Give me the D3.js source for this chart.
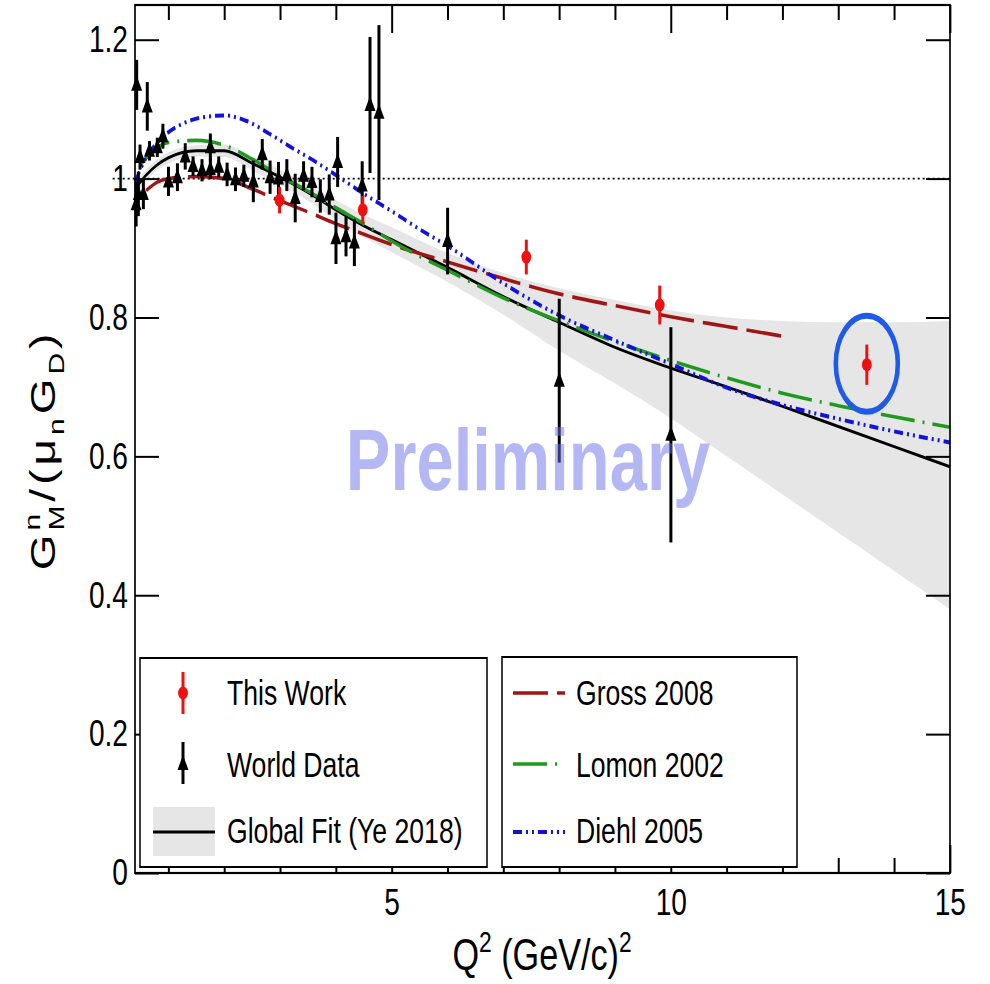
<!DOCTYPE html>
<html><head><meta charset="utf-8">
<script src="https://cdn.jsdelivr.net/npm/d3@7"></script>
<style>
body{margin:0;background:#fff}
svg{display:block}
text{font-family:"Liberation Sans",Arial,Helvetica,sans-serif}
</style>
</head><body>
<svg id="c" width="990" height="984"></svg>
<script>
// ---------------- data ----------------
const yTicks = [0, 0.2, 0.4, 0.6, 0.8, 1, 1.2];
const yTickLabels = ["0", "0.2", "0.4", "0.6", "0.8", "1", "1.2"];
const xMajorTicks = [5, 10, 15];
const xMajorLabels = ["5", "10", "15"];
const xMinorTicks = [1, 2, 3, 4, 6, 7, 8, 9, 11, 12, 13, 14];

// Global fit (Ye 2018) with uncertainty band
const fitQ  = [0.4, 0.6, 0.8, 1.0, 1.5, 2.0, 2.5, 3.0, 3.5, 4.0, 4.5, 5.0, 6.0, 7.0, 8.0, 9.0, 10.0, 11.0, 12.0, 13.0, 14.0, 15.0];
const fitY  = [0.985, 1.005, 1.02, 1.03, 1.04, 1.04, 1.022, 1.002, 0.98, 0.955, 0.932, 0.912, 0.872, 0.83, 0.793, 0.757, 0.727, 0.70, 0.672, 0.643, 0.614, 0.585];
const fitHi = [0.993, 1.013, 1.028, 1.038, 1.048, 1.049, 1.032, 1.013, 0.992, 0.969, 0.948, 0.93, 0.893, 0.864, 0.842, 0.825, 0.81, 0.80, 0.795, 0.793, 0.793, 0.795];
const fitLo = [0.977, 0.997, 1.012, 1.022, 1.032, 1.031, 1.012, 0.991, 0.968, 0.941, 0.916, 0.894, 0.851, 0.804, 0.752, 0.705, 0.655, 0.600, 0.545, 0.490, 0.435, 0.380];

// Gross 2008
const grossQ = [0.6, 0.8, 1.0, 1.5, 2.0, 2.5, 3.0, 3.5, 4.0, 4.5, 5.0, 6.0, 7.0, 8.0, 9.0, 10.0, 11.0, 12.0];
const grossY = [0.983, 0.995, 1.0, 1.003, 1.0, 0.985, 0.968, 0.952, 0.935, 0.92, 0.905, 0.88, 0.856, 0.834, 0.817, 0.801, 0.787, 0.773];

// Lomon 2002
const lomonQ = [0.5, 0.8, 1.0, 1.5, 2.0, 2.5, 3.0, 3.5, 4.0, 4.5, 5.0, 5.5, 6.0, 7.0, 8.0, 9.0, 10.0, 11.0, 12.0, 13.0, 14.0, 15.0];
const lomonY = [1.02, 1.045, 1.052, 1.055, 1.048, 1.028, 1.004, 0.982, 0.958, 0.935, 0.91, 0.888, 0.868, 0.828, 0.795, 0.765, 0.738, 0.713, 0.691, 0.673, 0.657, 0.642];

// Diehl 2005
const diehlQ = [0.4, 0.6, 0.9, 1.25, 1.6, 2.0, 2.4, 2.8, 3.2, 3.6, 4.0, 4.5, 5.0, 5.5, 6.0, 7.0, 8.0, 9.0, 10.0, 11.0, 12.0, 13.0, 14.0, 15.0];
const diehlY = [0.995, 1.03, 1.06, 1.079, 1.088, 1.091, 1.083, 1.065, 1.045, 1.026, 1.005, 0.978, 0.953, 0.927, 0.903, 0.849, 0.803, 0.767, 0.733, 0.699, 0.674, 0.654, 0.636, 0.620];

// World data
const worldQ   = [0.43, 0.62, 0.49, 0.66, 0.80, 0.90, 0.46, 0.42, 0.55, 1.00, 1.16, 1.30, 1.44, 1.60, 1.75, 1.75, 1.90, 2.05, 2.20, 2.35, 2.52, 2.68, 2.82, 2.97, 3.12, 3.27, 3.42, 3.57, 3.72, 3.88, 4.03, 4.00, 4.18, 4.33, 4.47, 4.61, 4.77, 6.00, 8.00, 10.00];
const worldY   = [1.135, 1.104, 1.031, 1.040, 1.045, 1.061, 0.978, 0.963, 0.978, 0.996, 1.002, 1.032, 1.018, 1.012, 1.045, 1.014, 1.017, 1.006, 0.999, 1.004, 0.996, 1.035, 1.002, 1.000, 1.005, 0.972, 1.004, 0.995, 0.975, 0.977, 1.024, 0.914, 0.917, 0.908, 0.990, 1.106, 1.095, 0.910, 0.709, 0.631];
const worldErr = [0.036, 0.035, 0.018, 0.014, 0.014, 0.018, 0.032, 0.032, 0.022, 0.021, 0.020, 0.019, 0.014, 0.016, 0.020, 0.015, 0.015, 0.017, 0.017, 0.016, 0.030, 0.022, 0.024, 0.024, 0.023, 0.035, 0.021, 0.022, 0.024, 0.029, 0.036, 0.037, 0.029, 0.034, 0.035, 0.098, 0.126, 0.048, 0.118, 0.155];

// This work
const thisQ   = [2.99, 4.48, 7.41, 9.80, 13.51];
const thisY   = [0.969, 0.955, 0.887, 0.818, 0.732];
const thisErr = [0.019, 0.020, 0.025, 0.028, 0.029];

const legendLeft  = ["This Work", "World Data", "Global Fit (Ye 2018)"];
const legendRight = ["Gross 2008", "Lomon 2002", "Diehl 2005"];

// ---------------- layout ----------------
const SX = 0.76;               // horizontal compression of the whole figure
const vx = p => p / SX;        // real px -> virtual x
const L = 135, R = 950, T = 5, B = 873;

const svg = d3.select("#c");
svg.append("rect").attr("width", 990).attr("height", 984).attr("fill", "#fff");
const g = svg.append("g").attr("transform", `scale(${SX},1)`);

const x = d3.scaleLinear().domain([0.4, 15]).range([vx(L), vx(R)]);
const y = d3.scaleLinear().domain([0, 1.25]).range([B, T]);

// band
const band = fitQ.map((q, i) => ({q, lo: fitLo[i], hi: fitHi[i]}));
g.append("path").datum(band)
  .attr("d", d3.area().x(d => x(d.q)).y0(d => y(d.lo)).y1(d => y(d.hi)).curve(d3.curveMonotoneX))
  .attr("fill", "#e6e6e6");

// dotted line at 1
g.append("line")
  .attr("x1", x(0)).attr("x2", x(15)).attr("y1", y(1)).attr("y2", y(1))
  .attr("stroke", "#000").attr("stroke-width", 1.6)
  .attr("stroke-dasharray", `${vx(2)},${vx(3)}`);

function curve(qs, vs, color, width, dash) {
  const pts = qs.map((q, i) => [q, vs[i]]);
  const p = g.append("path").datum(pts)
    .attr("d", d3.line().x(d => x(d[0])).y(d => y(d[1])).curve(d3.curveMonotoneX))
    .attr("fill", "none").attr("stroke", color).attr("stroke-width", width);
  if (dash) p.attr("stroke-dasharray", dash.map(vx).join(","));
  return p;
}
const grossDash = [35, 9];
const lomonDash = [34, 8, 2, 8];
const diehlDash = [9, 4, 2, 4, 2, 4];
curve(fitQ, fitY, "#000", 3, null);
curve(grossQ, grossY, "#a01515", 3.6, grossDash);
curve(lomonQ, lomonY, "#1f9a1f", 3.6, lomonDash);
curve(diehlQ, diehlY, "#1212dd", 4, diehlDash);

// markers
const triPath = `M0,-9L${vx(5.5)},6L${-vx(5.5)},6Z`;
const world = worldQ.map((q, i) => ({q, v: worldY[i], e: worldErr[i]}));
const wg = g.append("g");
wg.selectAll("line").data(world).join("line")
  .attr("x1", d => x(d.q)).attr("x2", d => x(d.q))
  .attr("y1", d => y(d.v - d.e)).attr("y2", d => y(d.v + d.e))
  .attr("stroke", "#000").attr("stroke-width", vx(3));
wg.selectAll("path").data(world).join("path")
  .attr("d", triPath).attr("transform", d => `translate(${x(d.q)},${y(d.v)})`)
  .attr("fill", "#000");

const tw = thisQ.map((q, i) => ({q, v: thisY[i], e: thisErr[i]}));
const rg = g.append("g");
rg.selectAll("line").data(tw).join("line")
  .attr("x1", d => x(d.q)).attr("x2", d => x(d.q))
  .attr("y1", d => y(d.v - d.e)).attr("y2", d => y(d.v + d.e))
  .attr("stroke", "#ee1111").attr("stroke-width", vx(3));
rg.selectAll("circle").data(tw).join("circle")
  .attr("cx", d => x(d.q)).attr("cy", d => y(d.v)).attr("r", 6.5)
  .attr("fill", "#ee1111");

// highlight ellipse around the last point
const last = tw[tw.length - 1];
g.append("ellipse")
  .attr("cx", x(last.q)).attr("cy", y(last.v) - 1)
  .attr("rx", vx(31)).attr("ry", 48)
  .attr("fill", "none").attr("stroke", "#1f5ae8").attr("stroke-width", 6);

// frame
g.append("rect").attr("x", vx(L)).attr("y", T).attr("width", vx(R - L)).attr("height", B - T)
  .attr("fill", "none").attr("stroke", "#000").attr("stroke-width", 2.2);

// axes
function styleAxis(sel, fs) {
  sel.select(".domain").remove();
  sel.attr("font-family", null).attr("font-size", fs);
  sel.selectAll("line").attr("stroke", "#000");
  sel.selectAll("text").attr("fill", "#000");
}
const axL = g.append("g").attr("transform", `translate(${vx(L)},0)`)
  .call(d3.axisLeft(y).tickValues(yTicks).tickFormat((d, i) => yTickLabels[i])
    .tickSizeInner(-vx(24)).tickSizeOuter(0).tickPadding(vx(7)));
styleAxis(axL, 37);
axL.selectAll("line").attr("stroke-width", 2);

const axR = g.append("g").attr("transform", `translate(${vx(R)},0)`)
  .call(d3.axisRight(y).tickValues(yTicks).tickFormat("")
    .tickSizeInner(-vx(24)).tickSizeOuter(0));
styleAxis(axR, 37);
axR.selectAll("line").attr("stroke-width", 2);

const axB = g.append("g").attr("transform", `translate(0,${B})`)
  .call(d3.axisBottom(x).tickValues(xMajorTicks).tickFormat((d, i) => xMajorLabels[i])
    .tickSizeInner(-28).tickSizeOuter(0).tickPadding(16));
styleAxis(axB, 37);
axB.selectAll("line").attr("stroke-width", vx(2));
const axBm = g.append("g").attr("transform", `translate(0,${B})`)
  .call(d3.axisBottom(x).tickValues(xMinorTicks).tickFormat("").tickSizeInner(-15).tickSizeOuter(0));
styleAxis(axBm, 37);
axBm.selectAll("line").attr("stroke-width", vx(2));

const axT = g.append("g").attr("transform", `translate(0,${T})`)
  .call(d3.axisTop(x).tickValues(xMajorTicks).tickFormat("").tickSizeInner(-28).tickSizeOuter(0));
styleAxis(axT, 37);
axT.selectAll("line").attr("stroke-width", vx(2));
const axTm = g.append("g").attr("transform", `translate(0,${T})`)
  .call(d3.axisTop(x).tickValues(xMinorTicks).tickFormat("").tickSizeInner(-15).tickSizeOuter(0));
styleAxis(axTm, 37);
axTm.selectAll("line").attr("stroke-width", vx(2));

// legends
const legFs = 35;
const rowY = [693, 764, 832];
const baseY = [705, 777, 843];
g.append("rect").attr("x", vx(140)).attr("y", 658).attr("width", vx(347)).attr("height", 209)
  .attr("fill", "#fff").attr("stroke", "#000").attr("stroke-width", 2);
g.append("rect").attr("x", vx(502)).attr("y", 657).attr("width", vx(295)).attr("height", 210)
  .attr("fill", "#fff").attr("stroke", "#000").attr("stroke-width", 2);

legendLeft.forEach((t, i) => {
  g.append("text").attr("x", vx(227)).attr("y", baseY[i]).attr("font-size", legFs).attr("fill", "#000").text(t);
});
legendRight.forEach((t, i) => {
  g.append("text").attr("x", vx(576)).attr("y", baseY[i]).attr("font-size", legFs).attr("fill", "#000").text(t);
});
g.append("line").attr("x1", vx(183)).attr("x2", vx(183)).attr("y1", rowY[0] - 21).attr("y2", rowY[0] + 21)
  .attr("stroke", "#ee1111").attr("stroke-width", vx(3));
g.append("circle").attr("cx", vx(183)).attr("cy", rowY[0]).attr("r", 6.5).attr("fill", "#ee1111");
g.append("line").attr("x1", vx(183)).attr("x2", vx(183)).attr("y1", rowY[1] - 22).attr("y2", rowY[1] + 20)
  .attr("stroke", "#000").attr("stroke-width", vx(3));
g.append("path").attr("d", triPath).attr("transform", `translate(${vx(183)},${rowY[1]})`).attr("fill", "#000");
g.append("rect").attr("x", vx(153)).attr("y", 807).attr("width", vx(62)).attr("height", 49).attr("fill", "#e6e6e6");
g.append("line").attr("x1", vx(153)).attr("x2", vx(215)).attr("y1", rowY[2]).attr("y2", rowY[2])
  .attr("stroke", "#000").attr("stroke-width", 3);
[["#a01515", grossDash, 3.6], ["#1f9a1f", lomonDash, 3.6], ["#1212dd", diehlDash, 4]].forEach((s, i) => {
  g.append("line").attr("x1", vx(513)).attr("x2", vx(565)).attr("y1", rowY[i]).attr("y2", rowY[i])
    .attr("stroke", s[0]).attr("stroke-width", s[2]).attr("stroke-dasharray", s[1].map(vx).join(","));
});

// axis titles
const xt = g.append("text").attr("x", vx(542)).attr("y", 970).attr("text-anchor", "middle")
  .attr("font-size", 45).attr("fill", "#000");
xt.append("tspan").text("Q");
xt.append("tspan").attr("font-size", 30).attr("dy", -18).text("2");
xt.append("tspan").attr("dy", 18).text(" (GeV/c)");
xt.append("tspan").attr("font-size", 30).attr("dy", -18).text("2");

const yt = g.append("text").attr("transform", `translate(${vx(55)},450) rotate(-90)`)
  .attr("text-anchor", "middle").attr("font-size", 46).attr("fill", "#000").attr("letter-spacing", 4);
yt.append("tspan").text("G");
yt.append("tspan").attr("font-size", 30).attr("dy", -20).text("n");
yt.append("tspan").attr("font-size", 30).attr("dx", -20.7).attr("dy", 32).text("M");
yt.append("tspan").attr("dy", -12).text("/(μ");
yt.append("tspan").attr("font-size", 30).attr("dy", 12).text("n");
yt.append("tspan").attr("dy", -12).text("G");
yt.append("tspan").attr("font-size", 30).attr("dy", 12).text("D");
yt.append("tspan").attr("dy", -12).text(")");

// watermark
g.append("text").attr("x", vx(528)).attr("y", 490).attr("text-anchor", "middle")
  .attr("font-size", 88).attr("font-weight", "bold").attr("fill", "#6a73ea").attr("opacity", 0.5)
  .text("Preliminary");
</script>
</body></html>
